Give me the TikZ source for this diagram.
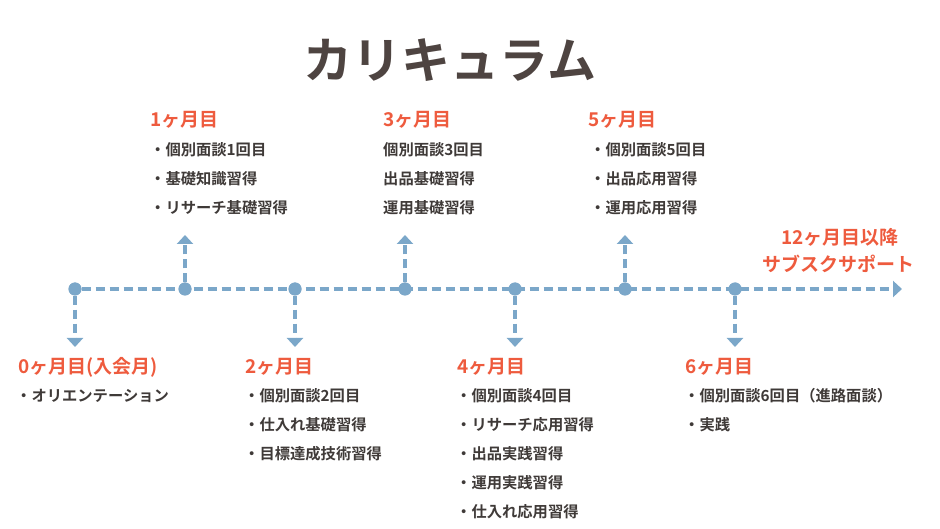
\documentclass[tikz,border=0pt]{standalone}
\usepackage{fontspec}
\setmainfont{Noto Sans CJK JP}[BoldFont={Noto Sans CJK JP Bold}]
\usetikzlibrary{arrows.meta}
\definecolor{tl}{HTML}{7BA7C9}
\definecolor{hd}{HTML}{EE5B3E}
\definecolor{tx}{HTML}{3F3A38}
\definecolor{tt}{HTML}{4E4441}
\begin{document}
\begin{tikzpicture}[x=1pt,y=-1pt,
  line/.style={tl,line width=3.6pt,dash pattern=on 9pt off 5pt},
  arr/.style={line,-{Triangle[length=9pt,width=16pt]}},
  dot/.style={circle,fill=tl,minimum size=13pt,inner sep=0},
  hd/.style={anchor=west,inner sep=0,text=hd,font=\fontsize{19}{22}\selectfont\bfseries},
  it/.style={anchor=west,inner sep=0,text=tx,font=\fontsize{15.3}{18}\selectfont\bfseries}]
\useasboundingbox (0,0) rectangle (940,529);
\node[inner sep=0,text=tt,font=\fontsize{49}{54}\selectfont\bfseries] (title) at (450,60) {カリキュラム};
\foreach \i/\x in {0/75,1/185,2/295,3/405,4/515,5/625,6/735}{\node[dot] (d\i) at (\x,289) {};}
\coordinate (end) at (902,289);
\draw[arr] (d0) -- (end);
\foreach \i in {1,3,5}{\coordinate (u\i) at ([yshift=54pt]d\i.center); \draw[arr] (d\i) -- (u\i);}
\foreach \i in {0,2,4,6}{\coordinate (w\i) at ([yshift=-58pt]d\i.center); \draw[arr] (d\i) -- (w\i);}
\foreach \i in {0,...,6}{\node[dot] at (d\i) {};}
% top
\node[hd] (h1) at (150,120) {1ヶ月目};
\node[it] (a1) at (150,150) {・個別面談1回目};
\node[it] (a2) at (150,179) {・基礎知識習得};
\node[it] (a3) at (150,208) {・リサーチ基礎習得};
\node[hd] (h3) at (383,120) {3ヶ月目};
\node[it] (b1) at (383,150) {個別面談3回目};
\node[it] (b2) at (383,179) {出品基礎習得};
\node[it] (b3) at (383,208) {運用基礎習得};
\node[hd] (h5) at (588,120) {5ヶ月目};
\node[it] (c1) at (590,150) {・個別面談5回目};
\node[it] (c2) at (590,179) {・出品応用習得};
\node[it] (c3) at (590,208) {・運用応用習得};
\node[hd,anchor=center] (h12a) at (840,237) {12ヶ月目以降};
\node[hd,anchor=center] (h12b) at (838,264) {サブスクサポート};
% bottom
\node[hd] (h0) at (18,367) {0ヶ月目(入会月)};
\node[it] (e1) at (16,396) {・オリエンテーション};
\node[hd] (h2) at (245,367) {2ヶ月目};
\node[it] (f1) at (244,396) {・個別面談2回目};
\node[it] (f2) at (244,425) {・仕入れ基礎習得};
\node[it] (f3) at (244,454) {・目標達成技術習得};
\node[hd] (h4) at (457,367) {4ヶ月目};
\node[it] (g1) at (456,396) {・個別面談4回目};
\node[it] (g2) at (456,425) {・リサーチ応用習得};
\node[it] (g3) at (456,454) {・出品実践習得};
\node[it] (g4) at (456,483) {・運用実践習得};
\node[it] (g5) at (456,512) {・仕入れ応用習得};
\node[hd] (h6) at (685,367) {6ヶ月目};
\node[it] (k1) at (684,396) {・個別面談6回目（進路面談）};
\node[it] (k2) at (684,425) {・実践};
\end{tikzpicture}
\end{document}
